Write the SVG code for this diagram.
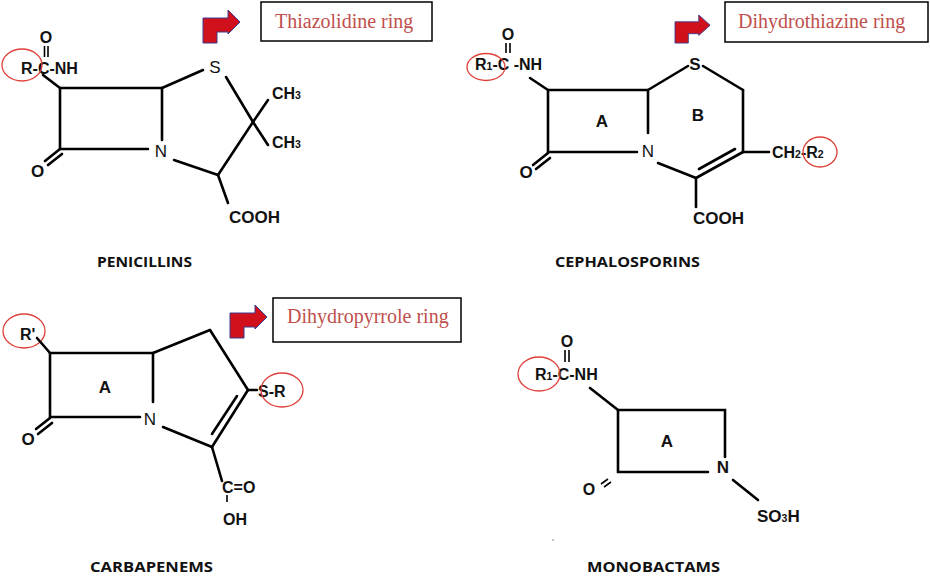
<svg xmlns="http://www.w3.org/2000/svg" width="930" height="577" viewBox="0 0 930 577">
<style>
.b{stroke:#000;stroke-width:2.6;fill:none;stroke-linecap:round}
.thin{stroke:#000;stroke-width:1.6;fill:none}
.t{font-family:"Liberation Sans",Arial,sans-serif;font-weight:bold;font-size:16px;fill:#111}
.n{font-weight:normal}
.big{font-size:17px}
.sub{font-size:10.5px}
.cap{font-family:"Open Sans","Liberation Sans",sans-serif;font-weight:700;font-size:15px;fill:#111}
.box{fill:#fff;stroke:#000;stroke-width:1.5}
.lbl{font-family:"Liberation Serif","Times New Roman",serif;font-size:20px;fill:#c0504d}
.ring{fill:none;stroke:#e0403a;stroke-width:1.3}
.arr{fill:#d0111b;stroke:#3b3b8f;stroke-width:1}
</style>
<defs>
<path id="bent" d="M0,33 L0,8 L25,8 L25,0 L37,12 L25,24 L25,22 L14,22 L14,33 Z"/>
</defs>
<rect width="930" height="577" fill="#fff"/>

<g id="penicillins">
  <use href="#bent" class="arr" transform="translate(203,10)"/>
  <rect class="box" x="261" y="2" width="171" height="39"/>
  <text class="lbl" x="275" y="28">Thiazolidine ring</text>
  <text class="t" x="46" y="43" text-anchor="middle" font-size="15">O</text>
  <text class="t" x="21" y="74">R-C-NH</text>
  <ellipse class="ring" cx="22" cy="65" rx="20" ry="16"/>
  <text class="t n big" x="161" y="157" text-anchor="middle">N</text>
  <text class="t n big" x="215" y="73" text-anchor="middle">S</text>
  <text class="t" x="272" y="99">CH<tspan class="sub">3</tspan></text>
  <text class="t" x="272" y="148">CH<tspan class="sub">3</tspan></text>
  <text class="t big" x="37.5" y="177" text-anchor="middle">O</text>
  <text class="t big" x="229" y="223">COOH</text>
  <text class="cap" x="144.5" y="267" text-anchor="middle" textLength="95" lengthAdjust="spacingAndGlyphs">PENICILLINS</text>
</g>

<g id="cephalosporins">
  <use href="#bent" class="arr" transform="translate(675,15) scale(0.95,0.85)"/>
  <rect class="box" x="725" y="2" width="203" height="40"/>
  <text class="lbl" x="738" y="28">Dihydrothiazine ring</text>
  <text class="t" x="508" y="40" text-anchor="middle" font-size="15">O</text>
  <text class="t" x="475" y="70">R<tspan class="sub">1</tspan>-C -NH</text>
  <ellipse class="ring" cx="486" cy="67" rx="19" ry="13.5"/>
  <text class="t big" x="602" y="127" text-anchor="middle">A</text>
  <text class="t big" x="698" y="121" text-anchor="middle">B</text>
  <text class="t n big" x="648" y="157" text-anchor="middle">N</text>
  <text class="t big" x="695" y="70" text-anchor="middle">S</text>
  <text class="t big" x="526" y="178" text-anchor="middle">O</text>
  <text class="t big" x="693" y="224">COOH</text>
  <text class="t" x="772" y="158">CH<tspan class="sub">2</tspan>-R<tspan class="sub">2</tspan></text>
  <ellipse class="ring" cx="820" cy="152" rx="17" ry="15"/>
  <text class="cap" x="627.5" y="267" text-anchor="middle" textLength="145" lengthAdjust="spacingAndGlyphs">CEPHALOSPORINS</text>
</g>

<g id="carbapenems">
  <use href="#bent" class="arr" transform="translate(230,305)"/>
  <rect class="box" x="273" y="298" width="188" height="44"/>
  <text class="lbl" x="287" y="323">Dihydropyrrole ring</text>
  <text class="t" x="20" y="340">R'</text>
  <ellipse class="ring" cx="24" cy="331" rx="21" ry="17"/>
  <text class="t big" x="105" y="393" text-anchor="middle">A</text>
  <text class="t n big" x="150" y="425" text-anchor="middle">N</text>
  <text class="t big" x="28" y="445" text-anchor="middle">O</text>
  <text class="t" x="258" y="397">S-R</text>
  <ellipse class="ring" cx="282" cy="390" rx="21" ry="17"/>
  <text class="t" x="222" y="493">C=O</text>
  <text class="t" x="223" y="525">OH</text>
  <text class="cap" x="151.5" y="572" text-anchor="middle" textLength="123" lengthAdjust="spacingAndGlyphs">CARBAPENEMS</text>
</g>

<g id="monobactams">
  <text class="t" x="567" y="347" text-anchor="middle" font-size="15">O</text>
  <text class="t" x="535" y="380">R<tspan class="sub">1</tspan>-C-NH</text>
  <ellipse class="ring" cx="539" cy="374" rx="21" ry="17"/>
  <text class="t big" x="667" y="447" text-anchor="middle">A</text>
  <text class="t big" x="723" y="473" text-anchor="middle">N</text>
  <text class="t" x="589" y="495" text-anchor="middle">O</text>
  <text class="t big" x="757" y="522">SO<tspan class="sub">3</tspan>H</text>
  <circle cx="553" cy="540" r="0.8" fill="#777"/>
  <text class="cap" x="653.5" y="572" text-anchor="middle" textLength="133" lengthAdjust="spacingAndGlyphs">MONOBACTAMS</text>
</g>

<g id="connectors">
  <!-- penicillin -->
  <line class="thin" x1="44.5" y1="46" x2="44.5" y2="57"/>
  <line class="thin" x1="48" y1="46" x2="48" y2="57"/>
  <line class="b" x1="43" y1="75" x2="60" y2="88"/>
  <path class="b" d="M60,88 H162 V140 M60,88 V149 H148"/>
  <line class="b" x1="60" y1="149" x2="45" y2="161"/>
  <line class="b" x1="62" y1="154" x2="48" y2="165"/>
  <line class="b" x1="162" y1="88" x2="203" y2="70"/>
  <line class="b" x1="226" y1="77" x2="253" y2="122"/>
  <line class="b" x1="253" y1="122" x2="268" y2="100"/>
  <line class="b" x1="253" y1="122" x2="268" y2="145"/>
  <line class="b" x1="253" y1="122" x2="218" y2="175"/>
  <line class="b" x1="174" y1="160" x2="218" y2="175"/>
  <line class="b" x1="218" y1="175" x2="228" y2="203"/>
  <!-- cephalosporin -->
  <line class="thin" x1="506" y1="43" x2="506" y2="53"/>
  <line class="thin" x1="510" y1="43" x2="510" y2="53"/>
  <line class="b" x1="530" y1="78" x2="548" y2="90"/>
  <path class="b" d="M548,90 H648 V133 M548,90 V152 H637"/>
  <line class="b" x1="548" y1="153" x2="533" y2="165"/>
  <line class="b" x1="550" y1="158" x2="536" y2="169"/>
  <line class="b" x1="648" y1="90" x2="688" y2="66"/>
  <line class="b" x1="703" y1="66" x2="743" y2="90"/>
  <line class="b" x1="743" y1="90" x2="743" y2="152"/>
  <line class="b" x1="743" y1="152" x2="696" y2="178"/>
  <line class="b" x1="735" y1="149" x2="699" y2="169"/>
  <line class="b" x1="658" y1="163" x2="696" y2="178"/>
  <line class="b" x1="696" y1="178" x2="696" y2="207"/>
  <line class="b" x1="743" y1="152" x2="769" y2="152"/>
  <!-- carbapenem -->
  <line class="b" x1="37" y1="338" x2="50" y2="353"/>
  <path class="b" d="M50,353 H153 V402 M50,353 V417 H140"/>
  <line class="b" x1="50" y1="418" x2="36" y2="429"/>
  <line class="b" x1="52" y1="423" x2="38" y2="434"/>
  <line class="b" x1="153" y1="353" x2="210" y2="330"/>
  <line class="b" x1="210" y1="330" x2="248" y2="390"/>
  <line class="b" x1="248" y1="390" x2="212" y2="447"/>
  <line class="b" x1="237" y1="396" x2="212" y2="434"/>
  <line class="b" x1="163" y1="427" x2="212" y2="447"/>
  <line class="b" x1="248" y1="390" x2="257" y2="390"/>
  <line class="b" x1="212" y1="447" x2="222" y2="481"/>
  <line class="thin" x1="227" y1="495" x2="227" y2="502"/>
  <!-- monobactam -->
  <line class="thin" x1="565" y1="350" x2="565" y2="362"/>
  <line class="thin" x1="569" y1="350" x2="569" y2="362"/>
  <line class="b" x1="590" y1="388" x2="618" y2="410"/>
  <path class="b" d="M618,410 H725 V457 M618,410 V472 H708"/>
  <line class="thin" x1="601" y1="484" x2="608" y2="479"/>
  <line class="thin" x1="604" y1="487" x2="611" y2="482"/>
  <line class="b" x1="733" y1="480" x2="758" y2="500"/>
</g>
</svg>
